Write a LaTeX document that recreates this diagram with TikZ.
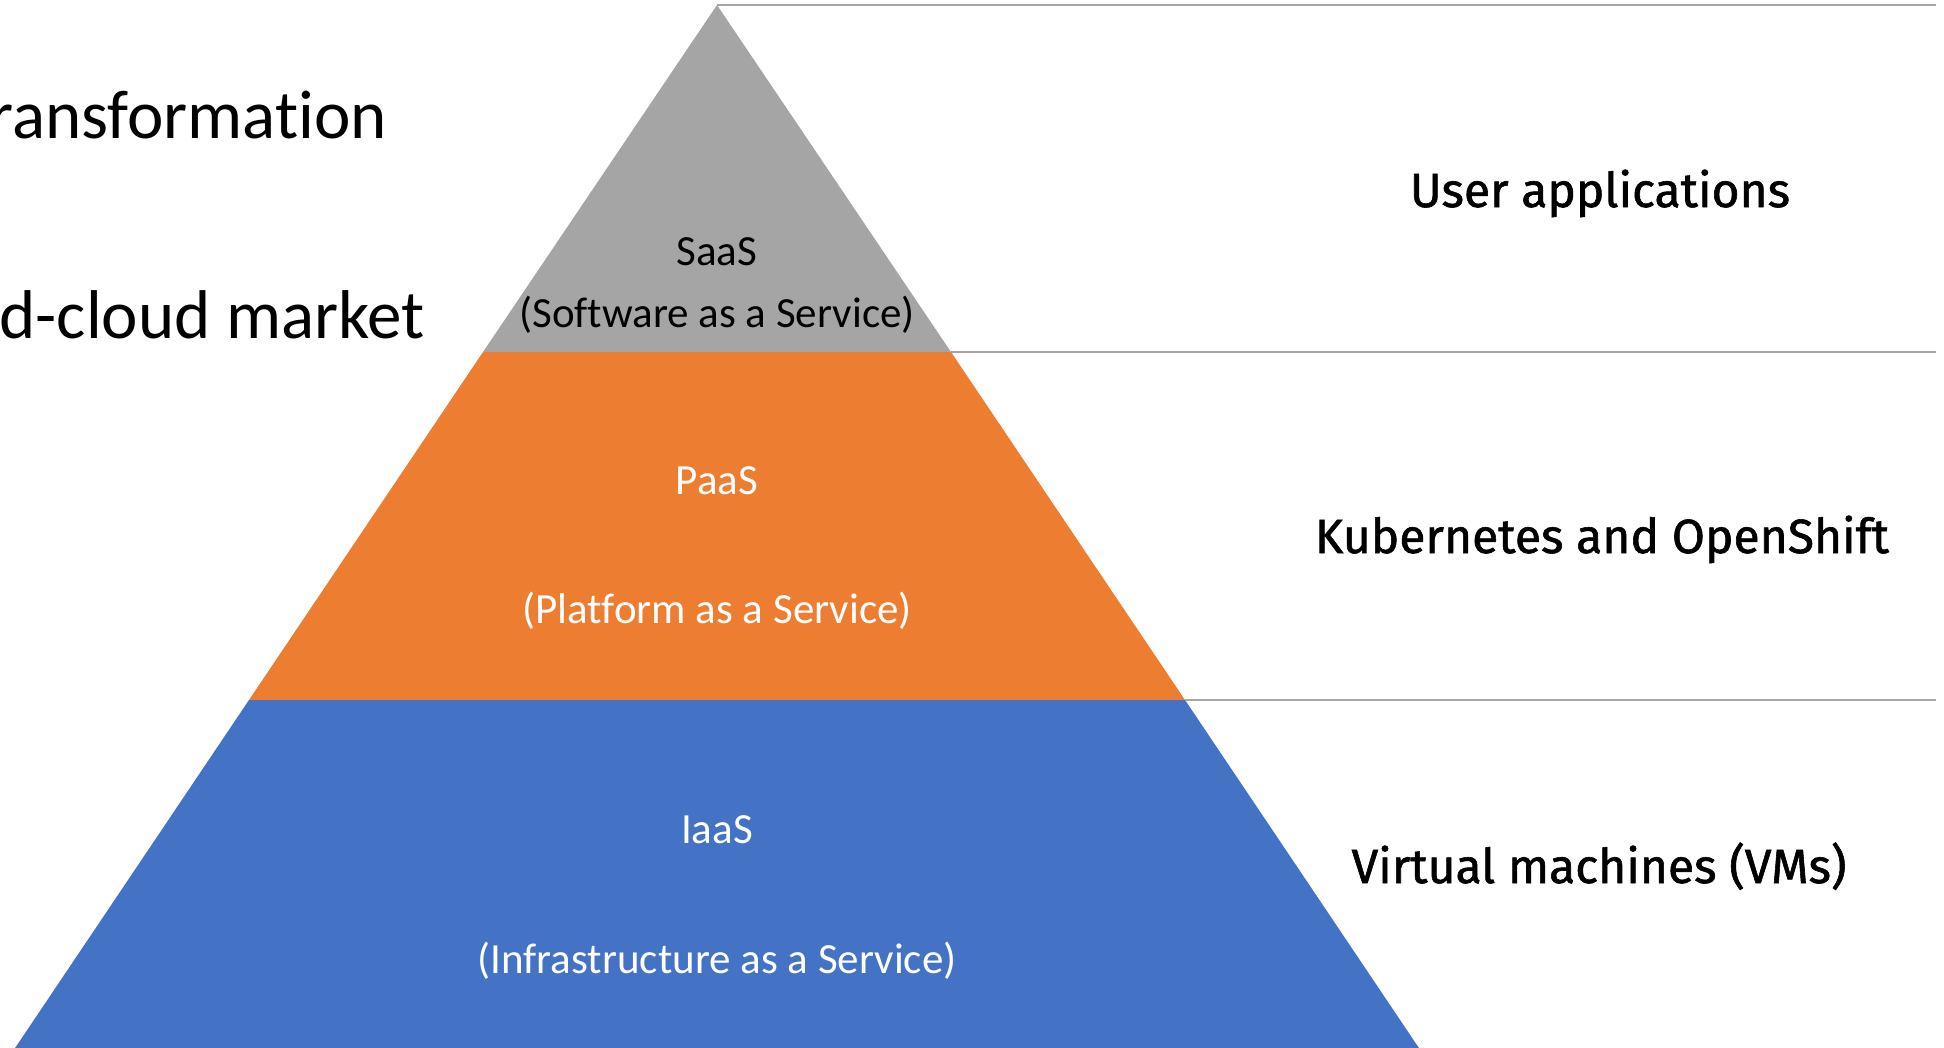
\documentclass[tikz,border=0pt]{standalone}
\usepackage{fontspec}
\setmainfont[Ligatures=NoCommon]{Carlito}
\newfontfamily\labelfont[FakeBold=1.2]{Fira Sans}
\definecolor{saasgrey}{HTML}{A5A5A5}
\definecolor{paasorange}{HTML}{ED7D31}
\definecolor{iaasblue}{HTML}{4472C4}
\definecolor{rulegrey}{HTML}{A6A6A6}
\tikzset{
  layertext/.style={anchor=base, inner sep=0pt, font=\fontsize{43}{50}\selectfont},
  sidelabel/.style={anchor=base, inner sep=0pt, font=\labelfont\fontsize{48}{56}\selectfont},
  bigtext/.style={anchor=base east, inner sep=0pt, font=\fontsize{69}{80}\selectfont},
  rule/.style={draw=rulegrey, line width=1.5pt}
}
\begin{document}
\begin{tikzpicture}[x=1pt,y=-1pt]
\useasboundingbox (0,0) rectangle (1944,1047);
\clip (0,0) rectangle (1944,1047);
\fill[white] (0,0) rectangle (1944,1047);

% corners of the pyramid layers
\coordinate (apex) at (717,5);
\coordinate (sl) at (483,352);
\coordinate (sr) at (951,352);
\coordinate (pl) at (249,700);
\coordinate (pr) at (1185,700);
\coordinate (bl) at (7,1060);
\coordinate (br) at (1427,1060);

% right ends of the separator rules
\coordinate (e0) at (1936,5);
\coordinate (e1) at (1936,352);
\coordinate (e2) at (1936,700);

% layers
\fill[saasgrey] (apex) -- (sr) -- (sl) -- cycle;
\fill[paasorange] (sl) -- (sr) -- (pr) -- (pl) -- cycle;
\fill[iaasblue] (pl) -- (pr) -- (br) -- (bl) -- cycle;

% separator rules
\draw[rule] (apex) -- (e0);
\draw[rule] (sr) -- (e1);
\draw[rule] (pr) -- (e2);

% layer captions
\node[layertext, text=black] (saas) at (717,265) {SaaS};
\node[layertext, text=black] (saasl) at (717,327) {(Software as a Service)};
\node[layertext, text=white] (paas) at (717,494) {PaaS};
\node[layertext, text=white] (paasl) at (717,623) {(Platform as a Service)};
\node[layertext, text=white] (iaas) at (717,843) {IaaS};
\node[layertext, text=white] (iaasl) at (717,973) {(Infrastructure as a Service)};

% labels on the right
\node[sidelabel] (user) at (1600,207) {User applications};
\node[sidelabel] (kube) at (1602,553) {Kubernetes and OpenShift};
\node[sidelabel] (vms) at (1599,883) {Virtual machines (VMs)};

% heading text on the left, running off the left edge
\node[bigtext] (head1) at (387,138) {ransformation};
\node[bigtext] (head2) at (425,338) {d-cloud market};
\end{tikzpicture}
\end{document}
